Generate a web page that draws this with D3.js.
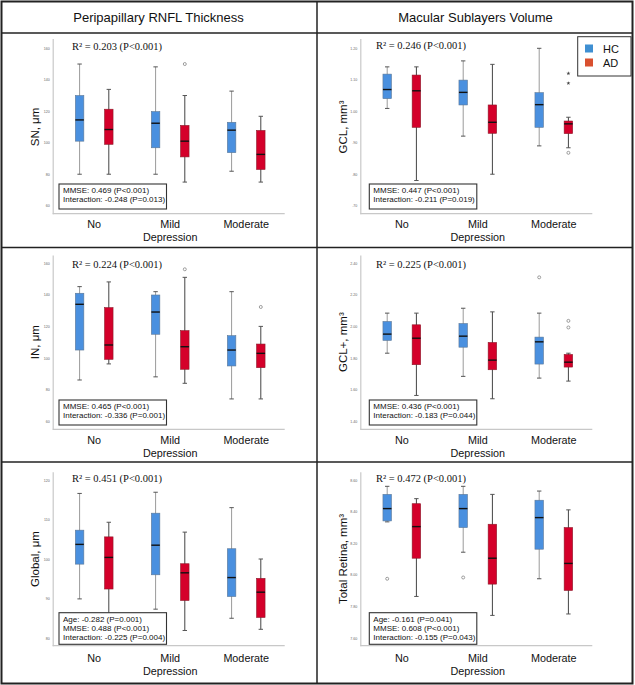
<!DOCTYPE html>
<html>
<head>
<meta charset="utf-8">
<script src="https://cdn.jsdelivr.net/npm/d3@7"></script>
<style>
  body { margin: 0; background: #fff; }
  text { font-family: "Liberation Sans", Arial, sans-serif; }
</style>
</head>
<body>
<div id="chart"></div>
<script>
var svgWidth = 635;
var svgHeight = 685;

// categories and groups
var categories = ["No", "Mild", "Moderate"];
var groups = ["HC", "AD"];
var headers = ["Peripapillary RNFL Thickness", "Macular Sublayers Volume"];

// box stats per category: [low whisker, q1, median, q3, high whisker]
var snHC = [[80, 101, 114.5, 130, 150], [80, 96.8, 112.4, 119.8, 148.2], [81.9, 93.7, 108, 113, 132.8]];
var snAD = [[80, 99, 108.4, 121.3, 133.9], [75, 91, 101, 111, 130], [75, 83, 92.6, 107.8, 116.8]];
var snOut = [["Mild", "AD", 150, "o"]];

var gclHC = [[1.009, 1.04, 1.069, 1.118, 1.141], [0.921, 1.02, 1.06, 1.099, 1.16], [0.89, 0.949, 1.021, 1.059, 1.20]];
var gclAD = [[0.78, 0.949, 1.065, 1.115, 1.141], [0.80, 0.93, 0.965, 1.02, 1.149], [0.884, 0.929, 0.96, 0.969, 0.981]];
var gclOut = [["Moderate", "AD", 1.12, "*"], ["Moderate", "AD", 1.089, "*"], ["Moderate", "AD", 0.868, "o"]];

var inHC = [[86, 105, 134, 141, 145.2], [88, 115, 129.1, 139.9, 142], [74, 94.9, 105, 114.1, 142]];
var inAD = [[96.2, 99.1, 108.2, 131.9, 148.2], [83.9, 92.8, 107.1, 117.3, 151.1], [74, 93.8, 102.9, 108.8, 120]];
var inOut = [["Mild", "AD", 156.2, "o"], ["Moderate", "AD", 132.3, "o"]];

var gclpHC = [[1.83, 1.911, 1.951, 2.031, 2.084], [1.683, 1.868, 1.938, 2.018, 2.115], [1.672, 1.761, 1.902, 1.932, 2.084]];
var gclpAD = [[1.562, 1.757, 1.925, 2.01, 2.084], [1.541, 1.725, 1.786, 1.898, 2.092], [1.653, 1.742, 1.773, 1.822, 1.83]];
var gclpOut = [["Moderate", "HC", 2.311, "o"], ["Moderate", "AD", 2.035, "o"], ["Moderate", "AD", 1.993, "o"]];

var globHC = [[89.9, 98.7, 103.7, 107.3, 116.6], [87.3, 96, 103.5, 111.6, 116.9], [85, 90.5, 95.3, 102.6, 113]];
var globAD = [[85.5, 92.4, 100.4, 105.6, 109.3], [81.9, 89.5, 96.5, 98.8, 106.8], [82.2, 85.2, 91.6, 95.1, 100]];
var globOut = [];

var trHC = [[8.335, 8.341, 8.419, 8.509, 8.56], [8.143, 8.299, 8.419, 8.509, 8.56], [7.975, 8.162, 8.362, 8.472, 8.53]];
var trAD = [[7.863, 8.105, 8.305, 8.45, 8.482], [7.743, 7.941, 8.105, 8.32, 8.509], [7.752, 7.901, 8.072, 8.299, 8.411]];
var trOut = [["No", "HC", 7.975, "o"], ["Mild", "HC", 7.983, "o"]];

// tick labels
var ticksSN = [60, 80, 100, 120, 140, 160];
var ticksGCL = [0.70, 0.80, 0.90, 1.00, 1.10, 1.20];
var ticksIN = [60, 80, 100, 120, 140, 160];
var ticksGCLP = [1.40, 1.60, 1.80, 2.00, 2.20, 2.40];
var ticksGlob = [80, 90, 100, 110, 120];
var ticksTR = [7.60, 7.80, 8.00, 8.20, 8.40, 8.60];

// annotation texts
var r2Texts = ["R\u00b2 = 0.203 (P<0.001)", "R\u00b2 = 0.246 (P<0.001)", "R\u00b2 = 0.224 (P<0.001)",
  "R\u00b2 = 0.225 (P<0.001)", "R\u00b2 = 0.451 (P<0.001)", "R\u00b2 = 0.472 (P<0.001)"];
var statTexts = [
  ["MMSE: 0.469 (P<0.001)", "Interaction: -0.248 (P=0.013)"],
  ["MMSE: 0.447 (P<0.001)", "Interaction: -0.211 (P=0.019)"],
  ["MMSE: 0.465 (P<0.001)", "Interaction: -0.336 (P=0.001)"],
  ["MMSE: 0.436 (P<0.001)", "Interaction: -0.183 (P=0.044)"],
  ["Age: -0.282 (P=0.001)", "MMSE: 0.488 (P<0.001)", "Interaction: -0.225 (P=0.004)"],
  ["Age: -0.161 (P=0.041)", "MMSE: 0.608 (P<0.001)", "Interaction: -0.155 (P=0.043)"]
];
var yLabels = ["SN, \u03bcm", "GCL, mm\u00b3", "IN, \u03bcm", "GCL+, mm\u00b3", "Global, \u03bcm", "Total Retina, mm\u00b3"];

var colors = { HC: "#4a90df", AD: "#d4002a" };
var legendColors = { HC: "#3f8fd2", AD: "#d9502f" };

// layout
var rows = [
  { axisTop: 38.5, tickTop: 48.3, tickBot: 205.7, xAxisY: 213.7, lab1: 224, lab2: 237, r2: 46.5, boxTop: 184, boxH: 25 },
  { axisTop: 255, tickTop: 263.3, tickBot: 421, xAxisY: 429.3, lab1: 440, lab2: 453.3, r2: 264.3, boxTop: 400, boxH: 25 },
  { axisTop: 471.7, tickTop: 480, tickBot: 638, xAxisY: 645.7, lab1: 658.3, lab2: 670.7, r2: 478.3, boxTop: 612.7, boxH: 31.6 }
];
var cols = [
  { axisX: 52.7, titleX: 35, r2dx: 19.3, boxDx: 6.3 },
  { axisX: 360.3, titleX: 343, r2dx: 15.7, boxDx: 9 }
];
var plotW = 232;

var panels = [
  { hc: snHC, ad: snAD, out: snOut, ticks: ticksSN, fmt: d3.format("d") },
  { hc: gclHC, ad: gclAD, out: gclOut, ticks: ticksGCL, fmt: function(d) { return d3.format(".2f")(d).replace(/^0/, ""); } },
  { hc: inHC, ad: inAD, out: inOut, ticks: ticksIN, fmt: d3.format("d") },
  { hc: gclpHC, ad: gclpAD, out: gclpOut, ticks: ticksGCLP, fmt: d3.format(".2f") },
  { hc: globHC, ad: globAD, out: globOut, ticks: ticksGlob, fmt: d3.format("d") },
  { hc: trHC, ad: trAD, out: trOut, ticks: ticksTR, fmt: d3.format(".2f") }
];

var svg = d3.select("#chart")
  .append("svg")
  .attr("width", svgWidth)
  .attr("height", svgHeight);

svg.append("rect")
  .attr("width", svgWidth)
  .attr("height", svgHeight)
  .attr("fill", "#fff");

// header titles
headers.forEach(function(h, i) {
  svg.append("text")
    .attr("x", i === 0 ? 158.5 : 475.5)
    .attr("y", 22)
    .attr("text-anchor", "middle")
    .style("font-size", "13px")
    .attr("fill", "#111")
    .text(h);
});

var boxW = 8.5;
var offset = 14.6;

panels.forEach(function(p, idx) {
  var row = rows[Math.floor(idx / 2)];
  var col = cols[idx % 2];
  var lo = d3.min(p.ticks), hi = d3.max(p.ticks);

  // y scale, then stretched to the full axis line
  var y = d3.scaleLinear().domain([lo, hi]).range([row.tickBot, row.tickTop]);
  y.domain([y.invert(row.xAxisY), y.invert(row.axisTop)]).range([row.xAxisY, row.axisTop]);

  var x = d3.scaleBand()
    .domain(categories)
    .range([col.axisX + 3.5, col.axisX + 231.5]);

  var g = svg.append("g");

  // y axis
  var yAxis = g.append("g")
    .attr("transform", `translate(${col.axisX}, 0)`)
    .call(d3.axisLeft(y).tickValues(p.ticks).tickFormat(p.fmt).tickSize(0).tickPadding(3));
  yAxis.select(".domain").attr("stroke", "#c8c8c8").attr("stroke-width", 1.2);
  yAxis.selectAll("text")
    .style("font-size", "3.6px")
    .attr("fill", "#666");

  // x axis line
  g.append("line")
    .attr("x1", col.axisX)
    .attr("x2", col.axisX + plotW)
    .attr("y1", row.xAxisY)
    .attr("y2", row.xAxisY)
    .attr("stroke", "#c8c8c8")
    .attr("stroke-width", 1.2);

  // category labels
  categories.forEach(function(c) {
    g.append("text")
      .attr("x", x(c) + x.bandwidth() / 2)
      .attr("y", row.lab1 + 3.8)
      .attr("text-anchor", "middle")
      .style("font-size", "10.8px")
      .attr("fill", "#111")
      .text(c);
  });
  g.append("text")
    .attr("x", x("Mild") + x.bandwidth() / 2)
    .attr("y", row.lab2 + 3.8)
    .attr("text-anchor", "middle")
    .style("font-size", "10.8px")
    .attr("fill", "#111")
    .text("Depression");

  // y label
  g.append("text")
    .attr("transform", `translate(${col.titleX + 4}, ${(row.tickTop + row.tickBot) / 2}) rotate(-90)`)
    .attr("text-anchor", "middle")
    .style("font-size", "11.5px")
    .attr("fill", "#111")
    .text(yLabels[idx]);

  // boxes
  groups.forEach(function(grp) {
    var stats = grp === "HC" ? p.hc : p.ad;
    var dx = grp === "HC" ? -offset : offset;
    var whiskerColor = grp === "HC" ? "#9a9a9a" : "#444";
    stats.forEach(function(s, i) {
      var cx = x(categories[i]) + x.bandwidth() / 2 + dx;
      // whiskers
      g.append("line")
        .attr("x1", cx).attr("x2", cx)
        .attr("y1", y(s[0])).attr("y2", y(s[4]))
        .attr("stroke", whiskerColor)
        .attr("stroke-width", 1);
      [s[0], s[4]].forEach(function(v) {
        g.append("line")
          .attr("x1", cx - 2.2).attr("x2", cx + 2.2)
          .attr("y1", y(v)).attr("y2", y(v))
          .attr("stroke", "#555")
          .attr("stroke-width", 1);
      });
      // box
      g.append("rect")
        .attr("x", cx - boxW / 2)
        .attr("width", boxW)
        .attr("y", y(s[3]))
        .attr("height", y(s[1]) - y(s[3]))
        .attr("fill", colors[grp])
        .attr("stroke", grp === "HC" ? "#5d7896" : "#8c1a2a")
        .attr("stroke-width", 0.6);
      // median
      g.append("line")
        .attr("x1", cx - boxW / 2).attr("x2", cx + boxW / 2)
        .attr("y1", y(s[2])).attr("y2", y(s[2]))
        .attr("stroke", "#111")
        .attr("stroke-width", 1.4);
    });
  });

  // outliers
  p.out.forEach(function(o) {
    var cx = x(o[0]) + x.bandwidth() / 2 + (o[1] === "HC" ? -offset : offset);
    if (o[3] === "o") {
      g.append("circle")
        .attr("cx", cx)
        .attr("cy", y(o[2]))
        .attr("r", 1.5)
        .attr("fill", "none")
        .attr("stroke", "#777")
        .attr("stroke-width", 0.7);
    } else {
      g.append("path")
        .attr("transform", `translate(${cx}, ${y(o[2])})`)
        .attr("d", d3.symbol().type(d3.symbolStar).size(5))
        .attr("fill", "#444");
    }
  });

  // R squared
  g.append("text")
    .attr("x", col.axisX + col.r2dx)
    .attr("y", (idx === 1 ? row.r2 - 1 : row.r2) + 3.6)
    .style("font-family", "'Liberation Serif', 'Times New Roman', serif")
    .style("font-size", "10.5px")
    .attr("fill", "#111")
    .text(r2Texts[idx]);

  // stats box
  var lines = statTexts[idx];
  g.append("rect")
    .attr("x", col.axisX + col.boxDx)
    .attr("y", row.boxTop)
    .attr("width", 107.5)
    .attr("height", row.boxH)
    .attr("fill", "#fff")
    .attr("stroke", "#333")
    .attr("stroke-width", 1.1);
  lines.forEach(function(t, i) {
    g.append("text")
      .attr("x", col.axisX + col.boxDx + 4)
      .attr("y", row.boxTop + 9.3 + i * 9)
      .style("font-size", "8px")
      .attr("fill", "#111")
      .text(t);
  });
});

// legend
var legend = svg.append("g");
legend.append("rect")
  .attr("x", 577.7)
  .attr("y", 36.7)
  .attr("width", 53.3)
  .attr("height", 39.3)
  .attr("fill", "#fff")
  .attr("stroke", "#333")
  .attr("stroke-width", 1);
groups.forEach(function(grp, i) {
  legend.append("rect")
    .attr("x", 585)
    .attr("y", 44.5 + i * 14)
    .attr("width", 8)
    .attr("height", 8)
    .attr("fill", legendColors[grp]);
  legend.append("text")
    .attr("x", 603)
    .attr("y", 52.5 + i * 14)
    .style("font-size", "11px")
    .attr("fill", "#111")
    .text(grp);
});

// frame lines
var frame = svg.append("g")
  .attr("stroke", "#222")
  .attr("fill", "none");
frame.append("rect")
  .attr("x", 1.5).attr("y", 1.5)
  .attr("width", 631).attr("height", 682)
  .attr("stroke-width", 2);
[33, 247.5, 462].forEach(function(yy) {
  frame.append("line")
    .attr("x1", 1.5).attr("x2", 632.5)
    .attr("y1", yy).attr("y2", yy)
    .attr("stroke-width", 1.5);
});
frame.append("line")
  .attr("x1", 317).attr("x2", 317)
  .attr("y1", 1.5).attr("y2", 683.5)
  .attr("stroke-width", 1.5);
</script>
</body>
</html>
